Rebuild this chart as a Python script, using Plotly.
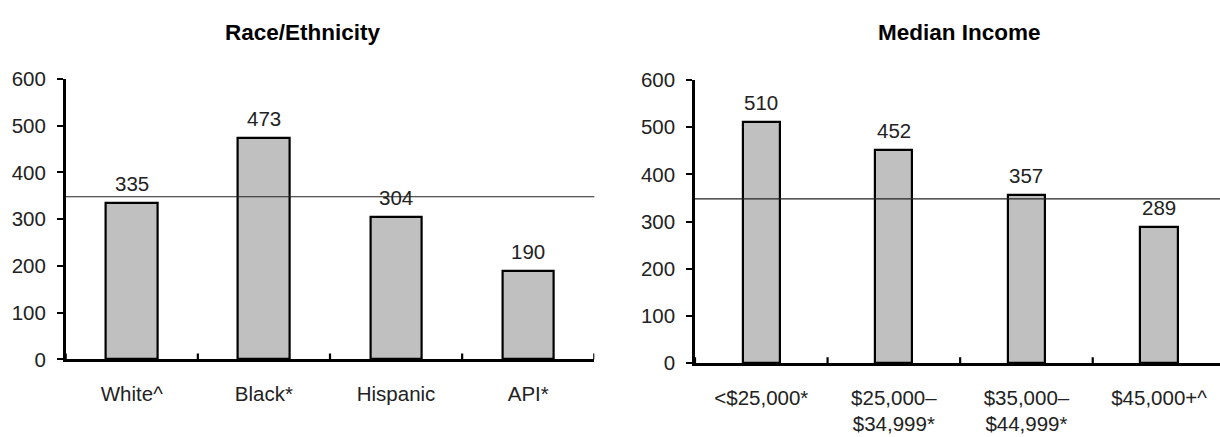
import plotly.graph_objects as go

# ---- data ----
race_categories = ["White^", "Black*", "Hispanic", "API*"]
race_values = [335, 473, 304, 190]
income_categories = ["<$25,000*", "$25,000–<br>$34,999*", "$35,000–<br>$44,999*", "$45,000+^"]
income_values = [510, 452, 357, 289]
average_value = 348
y_tick_values = [0, 100, 200, 300, 400, 500, 600]
panel_titles = ["Race/Ethnicity", "Median Income"]

W, H = 1220, 437
FONT = "Liberation Sans, Arial, Helvetica, sans-serif"
TXT = "#222222"
FS = 20.5


def fx(p):
    return p / W


def fy(p):
    return 1 - p / H


fig = go.Figure()

bar_style = dict(marker=dict(color="#C0C0C0", line=dict(color="black", width=2.2)),
                 showlegend=False, hoverinfo="skip")
fig.add_trace(go.Bar(x=race_categories, y=race_values, xaxis="x", yaxis="y", width=0.39, **bar_style))
fig.add_trace(go.Bar(x=income_categories, y=income_values, xaxis="x2", yaxis="y2", width=0.28, **bar_style))

left_dom = [fx(65.7), fx(594.3)]
right_dom = [fx(695), 1.0]
right_range = [-0.5, 3.46]

xcommon = dict(showline=True, linecolor="black", linewidth=2.5, showgrid=False, zeroline=False,
               ticks="", tickfont=dict(family=FONT, size=FS, color=TXT), ticklabelstandoff=14,
               fixedrange=True)
ycommon = dict(range=[0, 600], tickvals=y_tick_values, showline=True, linecolor="black", linewidth=2.5,
               showgrid=False, zeroline=False, ticks="outside", ticklen=6, tickwidth=2, tickcolor="black",
               tickfont=dict(family=FONT, size=FS, color=TXT), ticklabelstandoff=7, fixedrange=True)

fig.update_layout(
    width=W, height=H, margin=dict(l=0, r=0, t=0, b=0),
    paper_bgcolor="white", plot_bgcolor="white", bargap=0,
    xaxis=dict(domain=left_dom, anchor="y", range=[-0.5, 3.5], **xcommon),
    yaxis=dict(domain=[fy(366.7), fy(70.7)], anchor="x", **ycommon),
    xaxis2=dict(domain=right_dom, anchor="y2", range=right_range, **xcommon),
    yaxis2=dict(domain=[fy(370.7), fy(71.7)], anchor="x2", **ycommon),
)

for cats, xr, yr in ((race_categories, "x", "y"), (income_categories, "x2", "y2")):
    # average reference line
    fig.add_shape(type="line", xref=f"{xr} domain", yref=yr, x0=0, x1=1,
                  y0=average_value, y1=average_value, line=dict(color="#222222", width=1.2), layer="above")
    # crossing tick marks at category boundaries
    for i in range(len(cats) + 1):
        b = i - 0.5
        fig.add_shape(type="line", xref=xr, yref=yr, x0=b, x1=b, ysizemode="pixel", yanchor=0,
                      y0=-6, y1=6, line=dict(color="black", width=2.2), layer="above")

# value labels
for cats, vals, xr, yr in ((race_categories, race_values, "x", "y"),
                           (income_categories, income_values, "x2", "y2")):
    for c, v in zip(cats, vals):
        fig.add_annotation(x=c, y=v, xref=xr, yref=yr, text=str(v), showarrow=False,
                           yanchor="bottom", yshift=6, font=dict(family=FONT, size=FS, color=TXT))

# panel titles
for t, xc in zip(panel_titles, (303, 959)):
    fig.add_annotation(x=fx(xc), y=fy(22), xref="paper", yref="paper", text=f"<b>{t}</b>",
                       showarrow=False, xanchor="center", yanchor="middle",
                       font=dict(family=FONT, size=22.5, color="black"))

fig.write_html("out.html", config={"displayModeBar": False},
               post_script="document.body.style.margin='0';")
